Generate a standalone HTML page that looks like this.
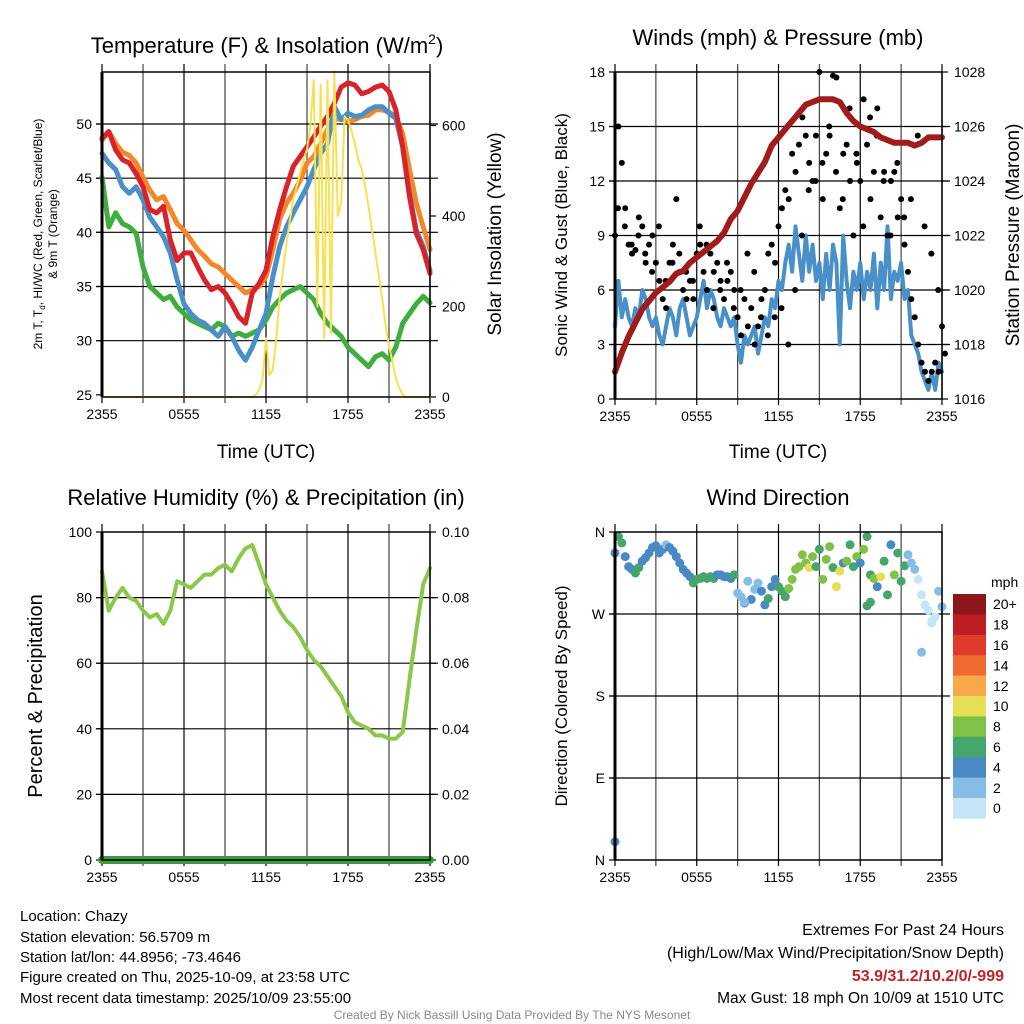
<!DOCTYPE html>
<html><head><meta charset="utf-8">
<style>
html,body{margin:0;padding:0;background:#fff;}
svg{display:block;font-family:"Liberation Sans",Arial,sans-serif;}
</style></head>
<body>
<svg id="c" width="1024" height="1024" viewBox="0 0 1024 1024" xmlns="http://www.w3.org/2000/svg">
<rect width="1024" height="1024" fill="#fff"/>
<text x="267" y="53" font-size="22" text-anchor="middle">Temperature (F) &amp; Insolation (W/m<tspan font-size="14" dy="-9">2</tspan><tspan dy="9">)</tspan></text>
<text x="778" y="45" font-size="22" text-anchor="middle">Winds (mph) &amp; Pressure (mb)</text>
<text x="266" y="505" font-size="22" text-anchor="middle">Relative Humidity (%) &amp; Precipitation (in)</text>
<text x="778" y="505" font-size="22" text-anchor="middle">Wind Direction</text>

<text x="266" y="458" font-size="19" text-anchor="middle">Time (UTC)</text>
<text x="778" y="458" font-size="19" text-anchor="middle">Time (UTC)</text>

<text transform="translate(42,234) rotate(-90)" font-size="12" text-anchor="middle">2m T, T<tspan font-size="8" dy="3">d</tspan><tspan dy="-3">, HI/WC (Red, Green, Scarlet/Blue)</tspan></text>
<text transform="translate(57,234) rotate(-90)" font-size="12" text-anchor="middle">&amp; 9m T (Orange)</text>
<text transform="translate(501,234) rotate(-90)" font-size="19" text-anchor="middle">Solar Insolation (Yellow)</text>
<text transform="translate(567,235) rotate(-90)" font-size="17" text-anchor="middle">Sonic Wind &amp; Gust (Blue, Black)</text>
<text transform="translate(1019,235) rotate(-90)" font-size="19" text-anchor="middle">Station Pressure (Maroon)</text>
<text transform="translate(42,696) rotate(-90)" font-size="20" text-anchor="middle">Percent &amp; Precipitation</text>
<text transform="translate(567,696) rotate(-90)" font-size="17" text-anchor="middle">Direction (Colored By Speed)</text>

<g font-size="15">
<text x="20" y="921">Location: Chazy</text>
<text x="20" y="942">Station elevation: 56.5709 m</text>
<text x="20" y="962">Station lat/lon: 44.8956; -73.4646</text>
<text x="20" y="982">Figure created on Thu, 2025-10-09, at 23:58 UTC</text>
<text x="20" y="1003">Most recent data timestamp: 2025/10/09 23:55:00</text>
</g>
<g font-size="16" text-anchor="end">
<text x="1004" y="935">Extremes For Past 24 Hours</text>
<text x="1004" y="958">(High/Low/Max Wind/Precipitation/Snow Depth)</text>
<text x="1004" y="981" fill="#c0222a" font-weight="bold">53.9/31.2/10.2/0/-999</text>
<text x="1004" y="1003" font-size="15.5">Max Gust: 18 mph On 10/09 at 1510 UTC</text>
</g>
<text x="512" y="1019" font-size="12" fill="#888" text-anchor="middle">Created By Nick Bassill Using Data Provided By The NYS Mesonet</text>
<g id="plots"></g>
</svg>
<script>
// ---- data (30-min unless noted) ----
const timeTicks = ["2355","0555","1155","1755","2355"];
const tempTicks = [25,30,35,40,45,50];
const solarTicks = [0,200,400,600];
const windTicks = [0,3,6,9,12,15,18];
const presTicks = [1016,1018,1020,1022,1024,1026,1028];
const rhTicks = [0,20,40,60,80,100];
const precipTicks = ["0.00","0.02","0.04","0.06","0.08","0.10"];
const dirLabels = ["N","E","S","W","N"];
const speedClasses = ["0","2","4","6","8","10","12","14","16","18","20+"];
const speedColors = ["#c4e6f7","#86bde6","#4a8ac4","#46a56a","#80c248","#e6df55","#f6a84a","#ee6a2e","#df3a2a","#be1d24","#8c1718"];

const tempRed = [48.7,49.3,47.6,46.7,46.4,45.4,44.2,42.1,41.8,42.4,39.3,37.4,38.1,38.1,36.8,35.6,34.7,35.0,34.4,33.4,32.2,31.6,34.4,35.3,36.5,39.6,42.1,44.2,46.1,47.0,47.9,48.8,49.8,50.7,51.9,53.4,53.8,53.6,52.8,53.0,53.4,53.6,53.0,51.3,47.9,43.3,39.9,38.4,36.2];
const tempOrange = [48.5,49.3,48.2,47.4,47.1,46.4,45.1,43.9,43.0,43.3,42.1,40.8,40.2,39.3,38.4,37.8,37.1,36.8,36.2,35.6,35.0,34.4,34.7,35.0,35.9,38.4,41.2,42.7,43.6,44.8,46.4,47.0,48.2,49.5,50.4,50.5,50.2,50.4,50.7,50.8,51.3,51.3,51.1,50.7,49.1,45.8,42.7,40.5,38.4];
const tempBlue = [47.3,46.4,45.8,44.2,43.6,44.2,43.0,41.4,40.5,39.6,38.1,35.6,33.4,32.5,31.9,31.6,31.0,30.4,31.3,30.4,29.1,28.2,29.4,31.0,32.5,35.9,38.7,40.5,41.8,43.0,44.2,45.8,47.3,48.2,51.6,50.4,51.0,50.7,50.8,51.3,51.6,51.6,51.0,50.5,47.9,43.6,40.2,38.7,36.5];
const dewGreen = [45.1,40.5,41.8,40.8,40.5,39.9,36.8,35.0,34.4,33.8,34.1,33.1,32.5,31.9,31.6,31.3,31.0,31.6,31.3,30.4,30.7,30.4,30.7,31.0,31.9,33.1,33.8,34.4,34.7,35.0,34.4,33.8,32.5,31.6,31.0,30.4,29.4,28.8,28.2,27.6,28.5,28.8,28.2,29.4,31.6,32.5,33.4,34.1,33.5];
// solar, 15-min (97 values)
const solar15 = [0,0,0,0,0,0,0,0,0,0,0,0,0,0,0,0,0,0,0,0,0,0,0,0,0,0,0,0,0,0,0,0,0,0,0,0,0,0,0,0,0,0,0,0,0,5,15,40,130,48,60,130,220,280,340,390,437,466,496,525,547,600,700,200,690,130,700,140,720,400,430,620,613,590,560,525,503,466,422,371,320,268,218,158,114,78,42,20,5,0,0,0,0,0,0,0,0];
const pressure = [1017.0,1017.7,1018.3,1018.8,1019.3,1019.6,1019.9,1020.1,1020.3,1020.6,1020.7,1021.0,1021.2,1021.4,1021.6,1021.8,1022.1,1022.6,1022.9,1023.4,1023.9,1024.3,1024.7,1025.3,1025.6,1025.9,1026.2,1026.5,1026.8,1026.9,1027.0,1027.0,1027.0,1026.9,1026.5,1026.2,1026.0,1025.9,1025.8,1025.6,1025.5,1025.4,1025.4,1025.4,1025.3,1025.4,1025.6,1025.6,1025.6];
// wind & gust, 15-min (97 values)
const wind15 = [4.0,6.5,4.5,5.5,4.5,4.0,5.0,4.5,6.0,5.5,4.5,4.0,4.5,3.5,3.0,4.0,5.0,4.5,3.5,5.0,5.5,4.5,3.5,4.0,4.5,5.5,6.5,5.0,6.0,5.5,4.5,4.0,5.0,4.5,4.0,4.5,3.0,2.0,3.5,3.0,3.5,4.0,2.5,3.5,4.5,4.0,5.5,5.0,6.5,6.0,7.5,8.5,7.0,9.5,8.0,6.5,9.0,7.0,8.5,6.5,7.5,5.5,8.0,6.0,8.5,7.5,3.0,9.0,6.5,5.0,7.0,6.0,7.5,5.5,7.0,6.0,8.0,5.0,7.5,6.0,9.5,5.5,7.0,6.5,7.5,5.5,6.0,3.5,3.0,2.5,1.5,1.0,0.5,1.5,0.5,2.0,1.5];
const gust15 = [9.0,15.0,13.0,10.5,8.5,8.0,8.2,10.0,9.5,7.5,8.5,9.0,7.5,6.5,5.5,5.0,7.5,8.5,11.0,7.0,6.0,5.5,6.5,5.5,8.0,8.5,7.0,6.0,8.0,7.0,7.5,6.5,5.5,6.5,7.0,6.0,4.5,3.5,5.5,4.0,5.0,3.0,4.0,5.5,6.0,8.0,8.5,7.5,9.5,10.5,11.5,11.0,13.5,12.5,14.0,15.5,14.5,13.0,12.0,14.5,18.0,11.0,13.5,14.5,17.8,17.7,10.5,13.5,14.0,12.0,9.0,13.0,12.0,16.5,14.0,11.0,12.5,16.0,10.0,12.5,9.0,12.0,12.5,10.0,11.0,8.5,7.0,5.5,4.5,3.0,2.0,1.5,1.0,1.5,2.0,1.5,4.0];
const gustExtra = [10.5,9.5,8.5,9.0,8.0,7.0,9.5,6.5,7.5,8.0,7.0,6.5,9.5,8.5,5.0,6.0,7.5,5.0,6.0,8.0,7.0,4.5,3.5,4.5,5.0,3.0,6.0,9.0,11.5,12.0,13.0,15.0,12.5,11.0,16.0,13.5,9.5,15.5,14.5,12.0,9.0,13.0,10.0,11.0,14.5,9.5,8.0,6.0,2.5];
const rh = [88,76,80,83,80,79,76,74,75,72,76,85,84,83,85,87,87,89,90,88,92,95,96,90,84,80,76,73,71,68,64,61,59,56,53,50,45,42,41,40,38,38,37,37,39,55,70,84,89];
const precip = [0,0,0,0,0,0,0,0,0,0,0,0,0,0,0,0,0,0,0,0,0,0,0,0,0,0,0,0,0,0,0,0,0,0,0,0,0,0,0,0,0,0,0,0,0,0,0,0,0];
// direction (deg) & speed class (mph), 15-min (97 values)
const dir15 = [337,355,348,333,322,319,315,321,328,332,337,343,345,337,341,346,343,339,333,326,319,315,311,304,308,309,311,309,311,309,313,313,311,311,309,313,293,289,282,306,286,297,304,295,280,287,300,308,300,295,289,298,308,319,322,335,326,321,333,322,341,308,330,344,321,300,317,326,328,346,322,333,326,341,355,313,309,300,311,328,291,346,313,337,306,323,335,326,319,308,291,280,274,260,267,295,278];
const spd15 = [4,6,6,4,4,4,6,6,4,4,4,4,4,4,4,2,4,4,4,4,4,4,4,6,6,6,6,6,6,6,4,4,4,4,4,6,2,2,4,2,4,2,2,4,4,6,4,4,6,6,6,8,8,8,8,8,8,10,8,6,6,8,8,8,6,10,10,4,8,6,6,8,4,8,6,6,8,4,10,6,6,4,8,6,6,6,2,2,2,0,0,0,0,0,0,2,2];
const extraIdx = [0,38,74,75,90,93];
const extraDir = [20,283,279,283,228,262];
const extraSpd = [4,2,6,6,2,0];

const NS = "http://www.w3.org/2000/svg";
const root = document.getElementById("plots");
function mk(tag, attrs, parent){
  const e = document.createElementNS(NS, tag);
  for (const k in attrs) e.setAttribute(k, attrs[k]);
  (parent||root).appendChild(e);
  return e;
}
function lin(d0,d1,r0,r1){ return v => r0 + (v-d0)*(r1-r0)/(d1-d0); }

const P1={x0:102,x1:430,y0:72,y1:397};
const P2={x0:615,x1:942,y0:72,y1:399};
const P3={x0:102,x1:430,y0:532,y1:860};
const P4={x0:615,x1:942,y0:532,y1:860};

function frame(P, name, hVals, yFn){
  const g = mk("g",{});
  
  
  for (let k=0;k<=8;k++){
    const x = P.x0 + k*(P.x1-P.x0)/8;
    const l = mk("line",{x1:x,x2:x,y1:P.y0-8,y2:P.y1+6,stroke:(k%2? "#444":"#000"),"stroke-width":1.2},g);
    
    
  }
  hVals.forEach(v=>{
    const y=yFn(v);
    const l = mk("line",{x1:P.x0-6,x2:P.x1+8,y1:y,y2:y,stroke:"#000","stroke-width":1.2},g);
    
    
  });
  timeTicks.forEach((t,k)=>{
    const x = P.x0 + k*(P.x1-P.x0)/4;
    const tx = mk("text",{x:x,y:P.y1+22,"font-size":14,"text-anchor":"middle"});
    tx.textContent=t;
    
    
  });
}
function border(P,name){
  const r = mk("rect",{x:P.x0,y:P.y0,width:P.x1-P.x0,height:P.y1-P.y0,fill:"none",stroke:"#000","stroke-width":1.5});
  
  
  const l = mk("line",{x1:P.x0,x2:P.x0,y1:P.y0,y2:P.y1,stroke:"#000","stroke-width":3});
  
  
}
function yTicks(P,vals,labels,yFn,side,name){
  vals.forEach((v,k)=>{
    const y=yFn(v);
    const xe = side==="l"? P.x0 : P.x1;
    const d = side==="l"? -6 : 6;
    const l = mk("line",{x1:xe,x2:xe+d,y1:y,y2:y,stroke:"#000","stroke-width":1.2});
    
    
    const t = mk("text",{x:side==="l"? xe-10 : xe+12,y:y+5,"font-size":14,"text-anchor":side==="l"?"end":"start"});
    t.textContent = labels[k];
    
    
  });
}
function path(arr,xFn,yFn,stroke,w,name){
  const d = arr.map((v,i)=>(i?"L":"M")+xFn(i).toFixed(1)+","+yFn(v).toFixed(1)).join("");
  const p = mk("path",{d:d,fill:"none",stroke:stroke,"stroke-width":w,"stroke-linejoin":"round","stroke-linecap":"round"});
  
  
}

// ---- Panel 1 ----
const yT = lin(24.8,54.8,P1.y1,P1.y0);
const yS = lin(0,600,P1.y1,P1.y1-600*0.4525);
const x30a = i => P1.x0 + i*(P1.x1-P1.x0)/48;
const x15a = i => P1.x0 + i*(P1.x1-P1.x0)/96;
frame(P1,"temp",[30,35,40,45,50],yT);
yTicks(P1,tempTicks,tempTicks.map(String),yT,"l","temp-y");
yTicks(P1,solarTicks,solarTicks.map(String),yS,"r","solar-y");
path(tempOrange,x30a,yT,"#f5862a",5,"series-9m-temp-orange");
path(dewGreen,x30a,yT,"#3fae3f",5,"series-dewpoint-green");
path(tempBlue,x30a,yT,"#4a90c8",5,"series-wind-chill-blue");
path(tempRed,x30a,yT,"#d8232a",5,"series-2m-temp-red");
path(solar15,x15a,yS,"#f8e050",2,"series-solar-yellow");
border(P1,"temp");

// ---- Panel 2 ----
const yW = lin(0,18,P2.y1,P2.y0);
const yP = lin(1016,1028,P2.y1,P2.y0);
const x30b = i => P2.x0 + i*(P2.x1-P2.x0)/48;
const x15b = i => P2.x0 + i*(P2.x1-P2.x0)/96;
frame(P2,"wind",[3,6,9,12,15],yW);
yTicks(P2,windTicks,windTicks.map(String),yW,"l","wind-y");
yTicks(P2,presTicks,presTicks.map(String),yP,"r","pressure-y");
path(wind15,x15b,yW,"#4a90c8",4,"series-sonic-wind-blue");
gust15.forEach((v,i)=>{
  const c = mk("circle",{cx:x15b(i),cy:yW(v),r:3,fill:"#000"});
  
  
});
gustExtra.forEach((v,i)=>{
  const c = mk("circle",{cx:x30b(i)+3,cy:yW(v),r:3,fill:"#000"});
  
  
});
path(pressure,x30b,yP,"#a01c1c",6,"series-pressure-maroon");
border(P2,"wind");

// ---- Panel 3 ----
const yR = lin(0,100,P3.y1,P3.y0);
const yPr = lin(0,0.10,P3.y1,P3.y0);
frame(P3,"rh",[20,40,60,80],yR);
yTicks(P3,rhTicks,rhTicks.map(String),yR,"l","rh-y");
yTicks(P3,precipTicks.map(Number),precipTicks,yPr,"r","precip-y");
path(rh,x30a,yR,"#8cc64a",4,"series-relative-humidity");
path(precip,x30a,yPr,"#3a9c3a",8,"series-precipitation");
border(P3,"rh");

// ---- Panel 4 ----
const yD = lin(0,360,P4.y1,P4.y0);
frame(P4,"dir",[90,180,270],yD);
yTicks(P4,[0,90,180,270,360],dirLabels,yD,"l","dir-y");
const spdColor = s => speedColors[Math.min(10,Math.floor(s/2))];
dir15.forEach((v,i)=>{
  const c = mk("circle",{cx:x15b(i),cy:yD(v),r:4.5,fill:spdColor(spd15[i])});
  
  
});
extraDir.forEach((v,k)=>{
  const c = mk("circle",{cx:x15b(extraIdx[k]),cy:yD(v),r:4.5,fill:spdColor(extraSpd[k])});
  
  
});
border(P4,"dir");

// colorbar
const cb = mk("g",{});


const cbTop=594, cbH=20.4;
speedClasses.forEach((lab,k)=>{
  const idx = 10-k;
  const y = cbTop + k*cbH;
  const r = mk("rect",{x:953,y:y,width:33,height:cbH+0.3,fill:speedColors[idx]},cb);
  
  
  const t = mk("text",{x:993,y:y+cbH/2+5,"font-size":14},cb);
  t.textContent = speedClasses[idx];
  
  
});
const mph = mk("text",{x:991,y:587,"font-size":14},cb);
mph.textContent="mph";


</script>
</body></html>
